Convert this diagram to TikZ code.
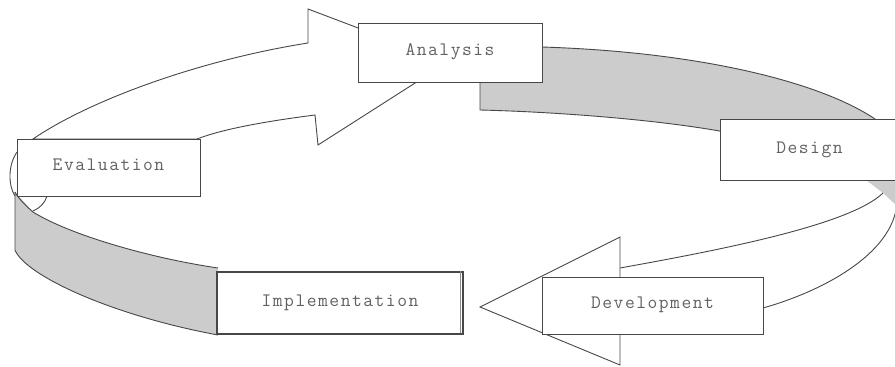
\documentclass[tikz,border=0pt]{standalone}
\usepackage{fontspec}
\newfontfamily\lab{Latin Modern Mono}[LetterSpace=8]
\begin{document}
\begin{tikzpicture}[x=1pt,y=-1pt,
  outl/.style={draw=black!72,line width=0.9pt},
  band/.style={fill=black!20},
  stage/.style={outl,fill=white,inner sep=0pt,font=\lab\fontsize{19}{22}\selectfont,text=black!62},
]
\useasboundingbox (0,0) rectangle (895,367);
\clip (0,0) rectangle (895,367);
\fill[white] (0,0) rectangle (895,367);
% ---- band Implementation -> Evaluation (grey, left)
\fill[band] (15,192) -- (15,250) .. controls (25,275) and (110,315) .. (218,335)
   -- (218,268) .. controls (150,258) and (70,235) .. (33,212) -- (15,192) -- cycle;
\draw[outl] (15,192) -- (15,250) .. controls (25,275) and (110,315) .. (218,335);
\draw[outl] (218,268) .. controls (150,258) and (70,235) .. (33,212) .. controls (25,205) and (18,198) .. (15,192);
\draw[outl] (17,152) .. controls (8,165) and (8,185) .. (15,196);
\draw[outl] (33,211) .. controls (40,208) and (45,203) .. (47,196);
% ---- band Analysis -> Design (grey, top right)
\fill[band] (480,70) -- (480,110) .. controls (560,112) and (660,120) .. (725,132)
   -- (875,119) .. controls (820,82) and (700,52) .. (542,47) -- (542,70) -- cycle;
\draw[outl] (480,80) -- (480,110) .. controls (560,112) and (660,120) .. (725,132);
\draw[outl] (542,47) .. controls (700,52) and (820,82) .. (875,119);
% ---- twisted piece under Design
\fill[band] (866,180) -- (897,180) -- (897,206) -- (883,193) -- cycle;
% ---- band Design -> Development (white)
\draw[outl] (883,193) .. controls (850,225) and (720,250) .. (620,268);
\draw[outl] (897,203) .. controls (893,255) and (820,292) .. (763,308);
% ---- Development arrow head
\draw[outl,fill=white] (620,237) coordinate (h1) -- (480,307) coordinate (tip) -- (620,365) coordinate (h2) -- cycle;
% ---- arrow Evaluation -> Analysis
\draw[outl,fill=white] (33,139) .. controls (90,100) and (200,60) .. (308,43)
   -- (308,9) -- (448,62) -- (318,145) -- (315,115)
   .. controls (260,122) and (220,130) .. (197,139) -- cycle;
% ---- stage boxes
\node[stage,minimum width=184pt,minimum height=59pt] (ana) at (450,52.5) {\raisebox{5pt}{Analysis}};
\node[stage,minimum width=180pt,minimum height=61pt,anchor=north west] (des) at (720,119) {\hspace*{-2pt}\raisebox{5pt}{Design}};
\node[stage,minimum width=221pt,minimum height=57pt] (dev) at (652.5,305.5) {\raisebox{5pt}{Development}};
\node[stage,minimum width=246pt,minimum height=62pt,line width=1.3pt] (imp) at (340,303) {\raisebox{5pt}{Implementation}};
\node[stage,minimum width=183pt,minimum height=57pt] (eva) at (108.5,167.5) {\raisebox{5pt}{Evaluation}};
\draw[outl,draw=black!45] (imp.north east) ++(-3pt,0) -- ++(0,-62pt);
\end{tikzpicture}
\end{document}
